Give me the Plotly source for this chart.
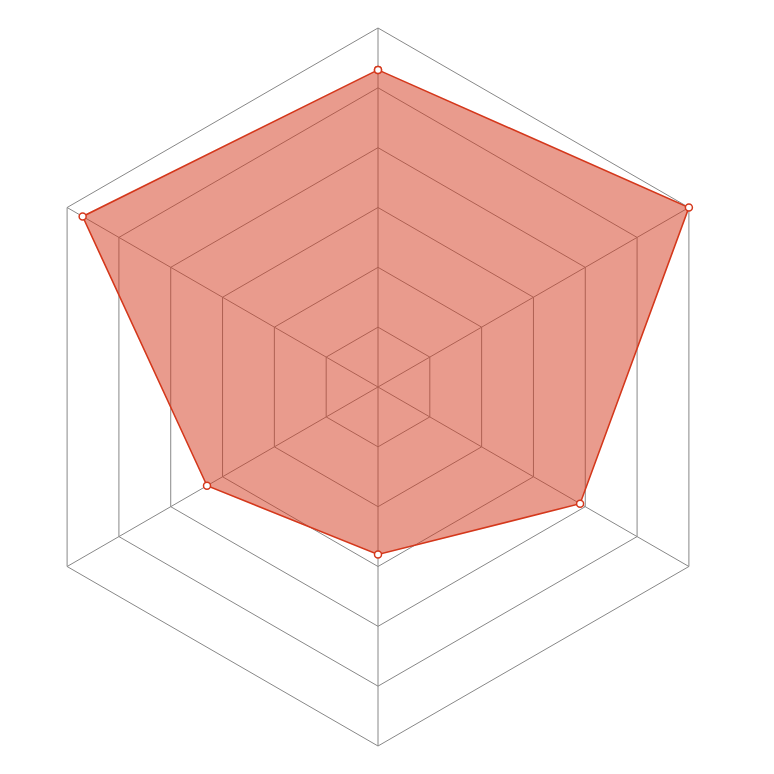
import plotly.graph_objects as go

categories = ["A", "B", "C", "D", "E", "F"]
values = [5.3, 6.0, 3.9, 2.8, 3.3, 5.7]
radial_max = 6

fig = go.Figure()
fig.add_trace(go.Scatterpolar(
    r=values + values[:1],
    theta=categories + categories[:1],
    mode="lines+markers",
    fill="toself",
    fillcolor="rgba(212,56,28,0.5)",
    line=dict(color="#d4381c", width=1.6),
    marker=dict(size=7, color="white", line=dict(color="#d4381c", width=1.5)),
    hoverinfo="skip",
    showlegend=False,
))

fig.update_layout(
    width=774, height=774,
    margin=dict(l=11, r=45, t=20, b=36),
    paper_bgcolor="white",
    plot_bgcolor="white",
    polar=dict(
        bgcolor="rgba(0,0,0,0)",
        gridshape="linear",
        domain=dict(x=[0, 1], y=[0, 1]),
        radialaxis=dict(
            range=[0, radial_max], dtick=1, showticklabels=False, ticks="",
            showline=False, gridcolor="#888888", gridwidth=1, layer="below traces",
        ),
        angularaxis=dict(
            rotation=90, direction="clockwise", showticklabels=False, ticks="",
            gridcolor="#888888", gridwidth=1, linecolor="#888888", linewidth=1,
            layer="below traces",
        ),
    ),
)

fig.write_html("out.html")
